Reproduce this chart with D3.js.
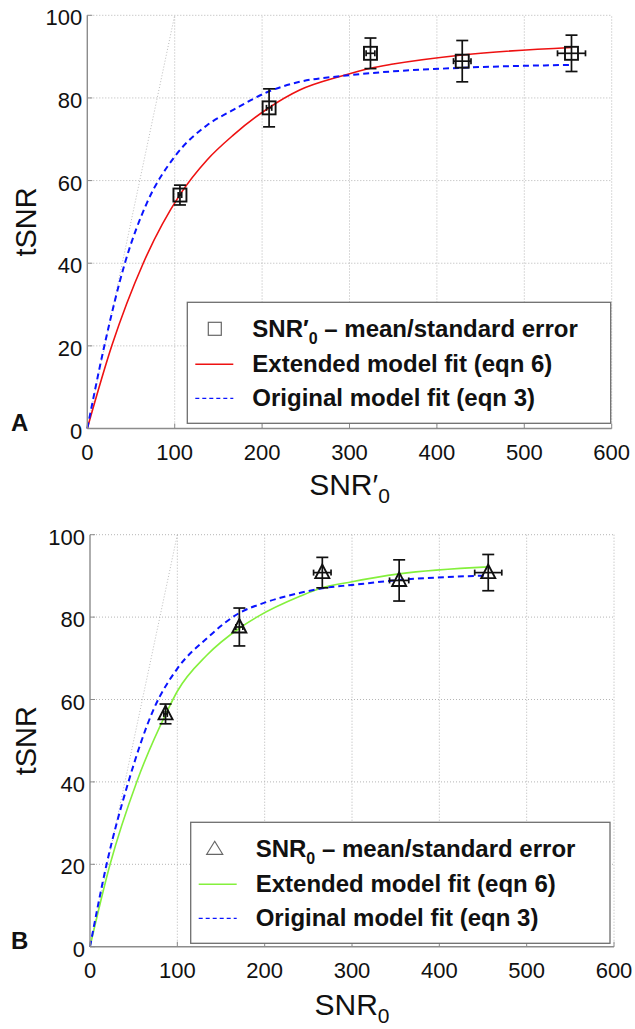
<!DOCTYPE html>
<html>
<head>
<meta charset="utf-8">
<script src="https://cdn.jsdelivr.net/npm/d3@7"></script>
<style>
  body { margin: 0; background: #fff; }
  svg { display: block; font-family: "Liberation Sans", Arial, Helvetica, sans-serif; }
</style>
</head>
<body>
<div id="chart"></div>
<script>
// ticks shared by both panels
const xTicks = [0, 100, 200, 300, 400, 500, 600];
const yTicks = [0, 20, 40, 60, 80, 100];

// measured tSNR, mean and standard error (same for both panels)
const tsnrMean = [56.5, 77.6, 90.8, 88.9, 90.8];
const tsnrErr  = [2.4, 4.6, 3.7, 5.0, 4.4];

// panel A : SNR'0
const snrPrime    = [106, 208, 324, 429, 554];
const snrPrimeErr = [2, 3, 5, 10, 16];
const extFitAx = [0, 28, 64, 106, 137, 167, 207, 243, 291, 324, 350, 429, 554];
const extFitAy = [0, 20, 40, 56.6, 65.0, 71.0, 77.5, 81.9, 85.3, 87.2, 88.2, 90.4, 92.2];
const origFitAx = [0, 19.5, 43, 68, 100, 137, 167, 207, 243, 291, 324, 429, 554];
const origFitAy = [0, 20, 40, 54.5, 65.8, 73.4, 77.1, 81.5, 83.9, 85.3, 86.0, 87.3, 88.0];

// panel B : SNR0
const snr0    = [86.5, 171, 266, 354, 456];
const snr0Err = [2, 4, 10, 11, 15.5];
const extFitBx = [0, 23, 53.5, 88, 100, 134, 171, 191, 241, 264, 300, 354, 456];
const extFitBy = [0, 20, 40, 57.0, 62.0, 70.8, 77.3, 80, 85.1, 87.0, 88.6, 90.5, 92.2];
const origFitBx = [0, 19, 44, 72.6, 100, 134, 171, 200, 241, 266, 300, 354, 456];
const origFitBy = [0, 20, 40, 57.5, 67.5, 74.9, 81.0, 83.5, 85.9, 87.0, 87.8, 89.0, 90.1];

// identity reference line
const identX = [0, 100];
const identY = [0, 100];

const W = 635, H = 1029;
const svg = d3.select('#chart').append('svg')
    .attr('width', W)
    .attr('height', H);

function drawPanel(p) {
    const x = d3.scaleLinear().domain([0, 600]).range([p.left, p.right]);
    const y = d3.scaleLinear().domain([0, 100]).range([p.bottom, p.top]);
    const g = svg.append('g');

    // dotted grid (top and right edge are grid lines too)
    g.selectAll('.gx').data(xTicks.slice(1)).join('line')
        .attr('x1', d => x(d)).attr('x2', d => x(d))
        .attr('y1', p.bottom).attr('y2', p.top)
        .attr('stroke', '#b5b5b5').attr('stroke-dasharray', '1,2');
    g.selectAll('.gy').data(yTicks.slice(1)).join('line')
        .attr('y1', d => y(d)).attr('y2', d => y(d))
        .attr('x1', p.left).attr('x2', p.right)
        .attr('stroke', '#b5b5b5').attr('stroke-dasharray', '1,2');

    // tSNR = SNR line
    g.append('path')
        .datum(identX.map((v, i) => [v, identY[i]]))
        .attr('d', d3.line().x(d => x(d[0])).y(d => y(d[1])))
        .attr('fill', 'none').attr('stroke', '#aaa')
        .attr('stroke-width', 0.8).attr('stroke-dasharray', '1,2');

    const line = d3.line().curve(d3.curveMonotoneX)
        .x(d => x(d[0])).y(d => y(d[1]));

    g.append('path')
        .datum(p.extX.map((v, i) => [v, p.extY[i]]))
        .attr('d', line)
        .attr('fill', 'none').attr('stroke', p.extColor).attr('stroke-width', 1.6);

    g.append('path')
        .datum(p.origX.map((v, i) => [v, p.origY[i]]))
        .attr('d', line)
        .attr('fill', 'none').attr('stroke', '#0a14ff')
        .attr('stroke-width', 2).attr('stroke-dasharray', '6,4');

    // error bars
    const pts = p.px.map((v, i) => ({ x: v, xe: p.pxErr[i], y: tsnrMean[i], ye: tsnrErr[i] }));
    const eb = g.selectAll('.eb').data(pts).join('g')
        .attr('stroke', '#111').attr('stroke-width', 1.7).attr('fill', 'none');
    eb.append('line')
        .attr('x1', d => x(d.x)).attr('x2', d => x(d.x))
        .attr('y1', d => y(d.y - d.ye)).attr('y2', d => y(d.y + d.ye));
    eb.append('line')
        .attr('x1', d => x(d.x) - 6).attr('x2', d => x(d.x) + 6)
        .attr('y1', d => y(d.y + d.ye)).attr('y2', d => y(d.y + d.ye));
    eb.append('line')
        .attr('x1', d => x(d.x) - 6).attr('x2', d => x(d.x) + 6)
        .attr('y1', d => y(d.y - d.ye)).attr('y2', d => y(d.y - d.ye));
    eb.append('line')
        .attr('x1', d => x(d.x - d.xe)).attr('x2', d => x(d.x + d.xe))
        .attr('y1', d => y(d.y)).attr('y2', d => y(d.y));
    eb.append('line')
        .attr('x1', d => x(d.x - d.xe)).attr('x2', d => x(d.x - d.xe))
        .attr('y1', d => y(d.y) - 3).attr('y2', d => y(d.y) + 3);
    eb.append('line')
        .attr('x1', d => x(d.x + d.xe)).attr('x2', d => x(d.x + d.xe))
        .attr('y1', d => y(d.y) - 3).attr('y2', d => y(d.y) + 3);

    // markers
    if (p.marker === 'square') {
        eb.append('rect')
            .attr('x', d => x(d.x) - 6.5).attr('y', d => y(d.y) - 6.5)
            .attr('width', 13).attr('height', 13).attr('stroke-width', 1.9);
    } else {
        eb.append('path')
            .attr('stroke-width', 1.9)
            .attr('d', d => {
                const cx = x(d.x), cy = y(d.y);
                return `M${cx},${cy - 8}L${cx + 7},${cy + 5.5}L${cx - 7},${cy + 5.5}Z`;
            });
    }

    // axes: solid left / bottom with inward ticks
    const ax = g.append('g').attr('stroke', '#8c8c8c').attr('stroke-width', 1.4);
    ax.append('line').attr('x1', p.left).attr('x2', p.left).attr('y1', p.top).attr('y2', p.bottom);
    ax.append('line').attr('x1', p.left).attr('x2', p.right).attr('y1', p.bottom).attr('y2', p.bottom);
    ax.selectAll('.tx').data(xTicks).join('line')
        .attr('x1', d => x(d)).attr('x2', d => x(d))
        .attr('y1', p.bottom).attr('y2', p.bottom - 5).attr('stroke-width', 1);
    ax.selectAll('.ty').data(yTicks).join('line')
        .attr('y1', d => y(d)).attr('y2', d => y(d))
        .attr('x1', p.left).attr('x2', p.left + 5).attr('stroke-width', 1);

    g.selectAll('.lx').data(xTicks).join('text')
        .attr('x', d => x(d)).attr('y', p.bottom + 31)
        .attr('text-anchor', 'middle').attr('font-size', 22).attr('fill', '#111')
        .text(d => d);
    g.selectAll('.ly').data(yTicks).join('text')
        .attr('x', p.left - 5).attr('y', d => y(d) + 10)
        .attr('text-anchor', 'end').attr('font-size', 22).attr('fill', '#111')
        .text(d => d);

    // axis titles
    const xt = g.append('text')
        .attr('x', (p.left + p.right) / 2).attr('y', p.bottom + p.titleDy)
        .attr('text-anchor', 'middle').attr('font-size', 30).attr('fill', '#111');
    xt.append('tspan').text(p.xName);
    xt.append('tspan').attr('dy', 8).attr('font-size', 21).text('0');

    g.append('text')
        .attr('transform', `translate(36,${(p.top + p.bottom) / 2}) rotate(-90)`)
        .attr('text-anchor', 'middle').attr('font-size', 29).attr('fill', '#111')
        .text('tSNR');

    g.append('text')
        .attr('x', 11).attr('y', p.bottom + 2)
        .attr('font-size', 24).attr('font-weight', 'bold').attr('fill', '#111')
        .text(p.label);

    // legend
    const lg = g.append('g').attr('transform', `translate(${p.legX},${p.legY})`);
    lg.append('rect')
        .attr('width', p.legW).attr('height', 121)
        .attr('fill', '#fff').attr('stroke', '#6e6e6e').attr('stroke-width', 1.3);
    const rows = [27, 62, 96];
    if (p.marker === 'square') {
        lg.append('rect').attr('x', 21).attr('y', rows[0] - 7).attr('width', 13).attr('height', 13)
            .attr('fill', 'none').attr('stroke', '#666').attr('stroke-width', 1.2);
    } else {
        lg.append('path').attr('d', `M24,${rows[0] - 8}L32,${rows[0] + 5}L16,${rows[0] + 5}Z`)
            .attr('fill', 'none').attr('stroke', '#666').attr('stroke-width', 1.2);
    }
    lg.append('line').attr('x1', 8).attr('x2', 46).attr('y1', rows[1]).attr('y2', rows[1])
        .attr('stroke', p.extColor).attr('stroke-width', 1.6);
    lg.append('line').attr('x1', 8).attr('x2', 46).attr('y1', rows[2]).attr('y2', rows[2])
        .attr('stroke', '#0a14ff').attr('stroke-width', 1.2).attr('stroke-dasharray', '4,3');

    const tx = 65;
    const t1 = lg.append('text').attr('x', tx).attr('y', rows[0] + 8)
        .attr('font-size', 24).attr('font-weight', 'bold').attr('fill', '#111');
    t1.append('tspan').text(p.xName);
    t1.append('tspan').attr('dy', 7).attr('font-size', 16).text('0');
    t1.append('tspan').attr('dy', -7).text(' \u2013 mean/standard error');
    lg.append('text').attr('x', tx).attr('y', rows[1] + 8)
        .attr('font-size', 24).attr('font-weight', 'bold').attr('fill', '#111')
        .text('Extended model fit (eqn 6)');
    lg.append('text').attr('x', tx).attr('y', rows[2] + 8)
        .attr('font-size', 24).attr('font-weight', 'bold').attr('fill', '#111')
        .text('Original model fit (eqn 3)');
}

drawPanel({
    left: 87.3, right: 611.7, top: 15.3, bottom: 428.5, titleDy: 66,
    px: snrPrime, pxErr: snrPrimeErr,
    extX: extFitAx, extY: extFitAy, origX: origFitAx, origY: origFitAy,
    extColor: '#ee1111', marker: 'square', xName: 'SNR\u2032', label: 'A',
    legX: 187.3, legY: 302.3, legW: 423.4
});

drawPanel({
    left: 90, right: 614, top: 534.7, bottom: 946.7, titleDy: 68,
    px: snr0, pxErr: snr0Err,
    extX: extFitBx, extY: extFitBy, origX: origFitBx, origY: origFitBy,
    extColor: '#84f03c', marker: 'triangle', xName: 'SNR', label: 'B',
    legX: 190.7, legY: 822.3, legW: 419.3
});
</script>
</body>
</html>
